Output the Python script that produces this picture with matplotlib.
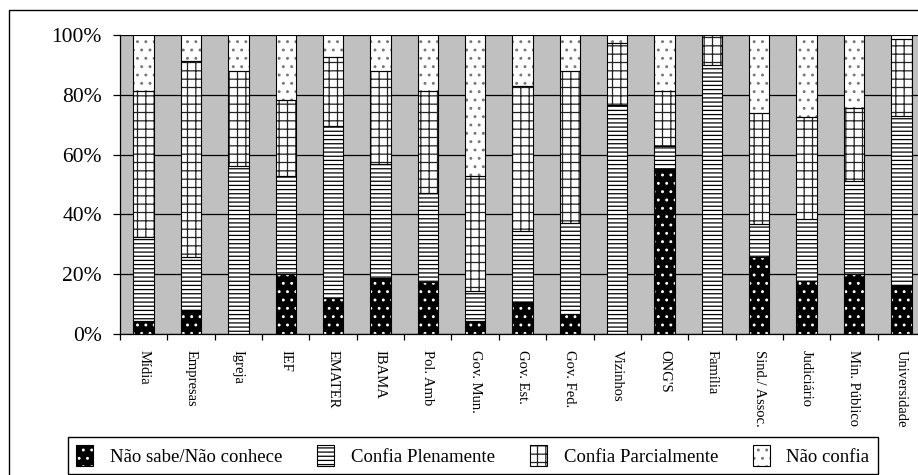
import matplotlib
matplotlib.use("Agg")
import matplotlib.pyplot as plt
import numpy as np
from matplotlib.patches import Patch, Rectangle

plt.rcParams['font.family'] = ['Liberation Serif', 'DejaVu Serif']
plt.rcParams['hatch.linewidth'] = 0.9

categories = ["Mídia", "Empresas", "Igreja", "IEF", "EMATER", "IBAMA", "Pol. Amb",
              "Gov. Mun.", "Gov. Est.", "Gov. Fed.", "Vizinhos", "ONG'S", "Família",
              "Sind./ Assoc.", "Judiciário", "Min. Público", "Universidade"]

# percent of answers per institution
nao_sabe = [4.5, 7.9, 0.0, 19.9, 12.0, 18.8, 17.5, 4.2, 10.7, 6.7, 0.0, 55.2, 0.0, 25.9, 17.6, 20.0, 16.3]
plenamente = [28.1, 17.8, 56.3, 33.0, 57.7, 38.1, 29.6, 10.3, 23.8, 30.4, 76.6, 7.7, 90.0, 11.0, 20.8, 31.2, 56.6]
parcialmente = [48.8, 65.7, 31.8, 25.4, 22.8, 31.2, 34.3, 38.4, 48.5, 51.0, 20.8, 18.5, 10.0, 36.9, 34.3, 24.3, 25.7]
nao_confia = [18.6, 8.6, 11.9, 21.7, 7.5, 11.9, 18.6, 47.1, 17.0, 11.9, 2.6, 18.6, 0.0, 26.2, 27.3, 24.5, 1.4]

series_labels = ["Não sabe/Não conhece", "Confia Plenamente", "Confia Parcialmente", "Não confia"]
y_ticks = [0, 20, 40, 60, 80, 100]

# (face, hatch, hatch colour) per series
styles = [("black", "..", "white"),
          ("white", "----", "black"),
          ("white", "++", "#222222"),
          ("white", "..", "#777777")]

W, H = 918, 475
fig = plt.figure(figsize=(W / 100, H / 100), dpi=100)
ax = fig.add_axes([120 / W, (H - 334) / H, 805 / W, 299 / H])
ax.set_facecolor("#C0C0C0")

data = np.array([nao_sabe, plenamente, parcialmente, nao_confia])
data = data / data.sum(axis=0) * 100
x = np.arange(len(categories)) + 0.5
width = 0.43
bottom = np.zeros(len(categories))
handles = []
for vals, (fc, hatch, hc) in zip(data, styles):
    ax.bar(x, vals, width, bottom=bottom, color=fc, edgecolor=hc, hatch=hatch, linewidth=0, zorder=2)
    ax.bar(x, vals, width, bottom=bottom, fill=False, edgecolor="black", linewidth=0.8, zorder=3)
    bottom += vals
    handles.append((Patch(facecolor=fc, edgecolor=hc, hatch=hatch, linewidth=0),
                    Patch(fill=False, edgecolor="black", linewidth=0.8)))

ax.set_xlim(0, len(categories))
ax.set_ylim(0, 100)
ax.set_yticks(y_ticks)
ax.set_yticklabels([f"{v}%" for v in y_ticks], fontsize=15.5)
ax.yaxis.grid(True, color="black", linewidth=0.9)
ax.set_axisbelow(True)
ax.tick_params(axis="y", direction="out", length=5, width=0.9, pad=8)

ax.set_xticks(x)
ax.set_xticklabels(categories, rotation=270, fontsize=10.5, va="top", ha="center")
ax.set_xticks(np.arange(len(categories) + 1), minor=True)
ax.tick_params(axis="x", which="major", length=0, pad=11.5)
ax.tick_params(axis="x", which="minor", direction="out", length=4, width=0.9)

for side in ("top", "right"):
    ax.spines[side].set_visible(False)
for side in ("left", "bottom"):
    ax.spines[side].set_linewidth(0.9)

leg = fig.legend(handles, series_labels, loc="lower left",
                 bbox_to_anchor=(68 / W, 1 / H, 810 / W, 37 / H), mode="expand",
                 ncol=4, fancybox=False, edgecolor="black", framealpha=1,
                 borderaxespad=0, handlelength=0.9, handleheight=1.3,
                 handletextpad=0.9, borderpad=0.45, fontsize=13.5)
leg.get_frame().set_linewidth(1.0)

fig.add_artist(Rectangle((9 / W, -0.05), 1.2, (H - 10) / H + 0.05,
                         transform=fig.transFigure, fill=False,
                         edgecolor="black", linewidth=1.0))

fig.savefig("out.png", dpi=100)
